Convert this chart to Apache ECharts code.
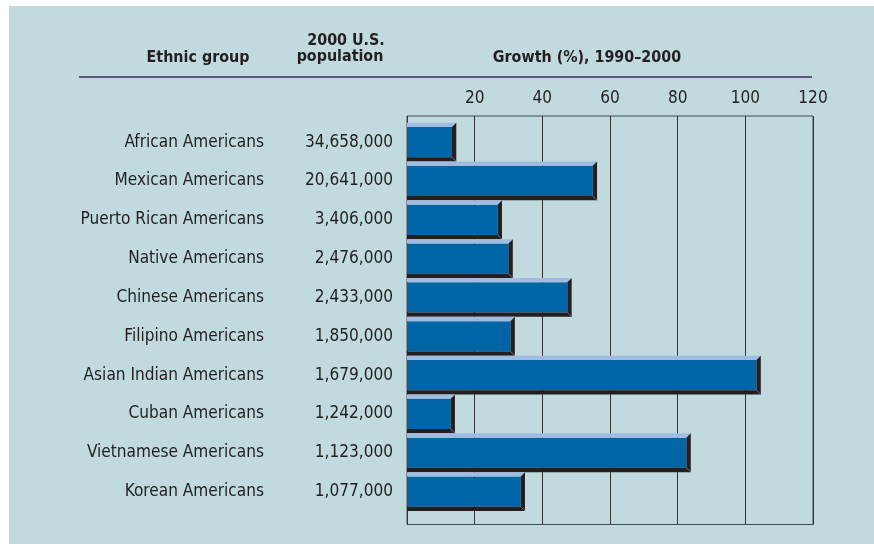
<!DOCTYPE html>
<html>
<head>
<meta charset="utf-8">
<script src="https://cdn.jsdelivr.net/npm/echarts@6/dist/echarts.min.js"></script>
<style>
  html, body { margin: 0; padding: 0; background: #ffffff; }
  #chart { width: 874px; height: 544px; }
</style>
</head>
<body>
<div id="chart"></div>
<script>
// Ethnic groups, their 2000 population and growth 1990–2000 (%)
const groups = [
  'African Americans', 'Mexican Americans', 'Puerto Rican Americans',
  'Native Americans', 'Chinese Americans', 'Filipino Americans',
  'Asian Indian Americans', 'Cuban Americans', 'Vietnamese Americans',
  'Korean Americans'
];
const population = [
  '34,658,000', '20,641,000', '3,406,000', '2,476,000', '2,433,000',
  '1,850,000', '1,679,000', '1,242,000', '1,123,000', '1,077,000'
];
const growth = [13.3, 54.9, 26.8, 30.0, 47.4, 30.6, 103.3, 12.9, 82.6, 33.6];
const growthTicks = [0, 20, 40, 60, 80, 100, 120];

// Pick a narrow humanist face when one is installed
function pickFont() {
  const ctx = document.createElement('canvas').getContext('2d');
  const probe = 'African Americans';
  ctx.font = '20px monospace';
  const base = ctx.measureText(probe).width;
  const list = ['Liberation Sans Narrow', 'DejaVu Sans Condensed', 'Noto Sans'];
  for (const f of list) {
    ctx.font = '20px "' + f + '", monospace';
    const w = ctx.measureText(probe).width;
    if (Math.abs(w - base) > 0.5) return { family: '"' + f + '", sans-serif', scale: 140 / w };
  }
  return { family: 'sans-serif', scale: 1 };
}
const font = pickFont();
const fs = n => Math.round(n * 20 * font.scale * 10) / 10;

const INK = '#231f20';
const PANEL = '#c1dadd';
const FACE = '#0065a6';
const LIGHT = '#a0bce2';
const DARK = '#231f20';

const headFont = 'bold ' + fs(0.93) + 'px ' + font.family;
function header(text, x, y) {
  return {
    type: 'text',
    style: { text: text, x: x, y: y, align: 'center', verticalAlign: 'middle', fill: INK, font: headFont }
  };
}

const chart = echarts.init(document.getElementById('chart'), null, { renderer: 'canvas' });

const gridLeft = 407, gridRight = 61;

chart.setOption({
  backgroundColor: '#ffffff',
  animation: false,
  graphic: [
    { type: 'rect', z: -10, shape: { x: 9, y: 6, width: 865, height: 538 }, style: { fill: PANEL } },
    header('Ethnic group', 198, 58),
    header('2000 U.S.', 346, 41),
    header('population', 340, 57),
    header('Growth (%), 1990–2000', 587, 58),
    { type: 'line', shape: { x1: 79, y1: 77, x2: 812, y2: 77 }, style: { stroke: '#3d2b66', lineWidth: 1.6 } }
  ],
  grid: [
    { left: gridLeft, right: gridRight, top: 116, bottom: 19.5, show: true, borderColor: '#4a4a4a', borderWidth: 1, backgroundColor: 'transparent' },
    { left: gridLeft, right: gridRight, top: 122.7, bottom: 33 }
  ],
  xAxis: [
    {
      gridIndex: 0, type: 'value', position: 'top',
      min: growthTicks[0], max: growthTicks[growthTicks.length - 1], interval: 20,
      axisLine: { show: false }, axisTick: { show: false },
      axisLabel: {
        margin: 9, color: INK, fontFamily: font.family, fontSize: fs(1),
        formatter: v => (v === 0 ? '' : String(v))
      },
      splitLine: { show: true, lineStyle: { color: '#333333', width: 1 } }
    },
    { gridIndex: 1, type: 'value', min: 0, max: 120, show: false }
  ],
  yAxis: [
    { gridIndex: 0, type: 'value', show: false },
    {
      gridIndex: 1, type: 'category', data: groups, inverse: true, position: 'left',
      axisLine: { show: false }, axisTick: { show: false }, splitLine: { show: false },
      axisLabel: { margin: 143, color: INK, fontFamily: font.family, fontSize: fs(1) }
    },
    {
      gridIndex: 1, type: 'category', data: population, inverse: true, position: 'left',
      axisLine: { show: false }, axisTick: { show: false }, splitLine: { show: false },
      axisLabel: { margin: 14, color: INK, fontFamily: font.family, fontSize: fs(1) }
    }
  ],
  series: [{
    type: 'custom',
    xAxisIndex: 1,
    yAxisIndex: 1,
    encode: { x: 0, y: 1 },
    data: growth.map((g, i) => [g, i]),
    renderItem: function (params, api) {
      const cat = api.value(1);
      const p0 = api.coord([0, cat]);
      const p1 = api.coord([api.value(0), cat]);
      const h = api.size([0, 1])[1];
      const e = 4.3;
      const x0 = p0[0], xe = p1[0];
      const yt = p0[1] - h / 2, yb = p0[1] + h / 2;
      return {
        type: 'group',
        children: [
          { type: 'rect', shape: { x: x0, y: yt + e, width: xe - x0, height: h - 2 * e }, style: { fill: FACE } },
          { type: 'polygon', shape: { points: [[x0, yt], [xe + e, yt], [xe, yt + e], [x0, yt + e]] }, style: { fill: LIGHT } },
          { type: 'polygon', shape: { points: [[xe, yt + e], [xe + e, yt], [xe + e, yb], [xe, yb - e]] }, style: { fill: DARK } },
          { type: 'polygon', shape: { points: [[x0, yb - e], [xe, yb - e], [xe + e, yb], [x0, yb]] }, style: { fill: DARK } },
          { type: 'line', shape: { x1: xe, y1: yb - e, x2: xe + e, y2: yb }, style: { stroke: '#6b6b6b', lineWidth: 0.8 } }
        ]
      };
    }
  }]
});
</script>
</body>
</html>
